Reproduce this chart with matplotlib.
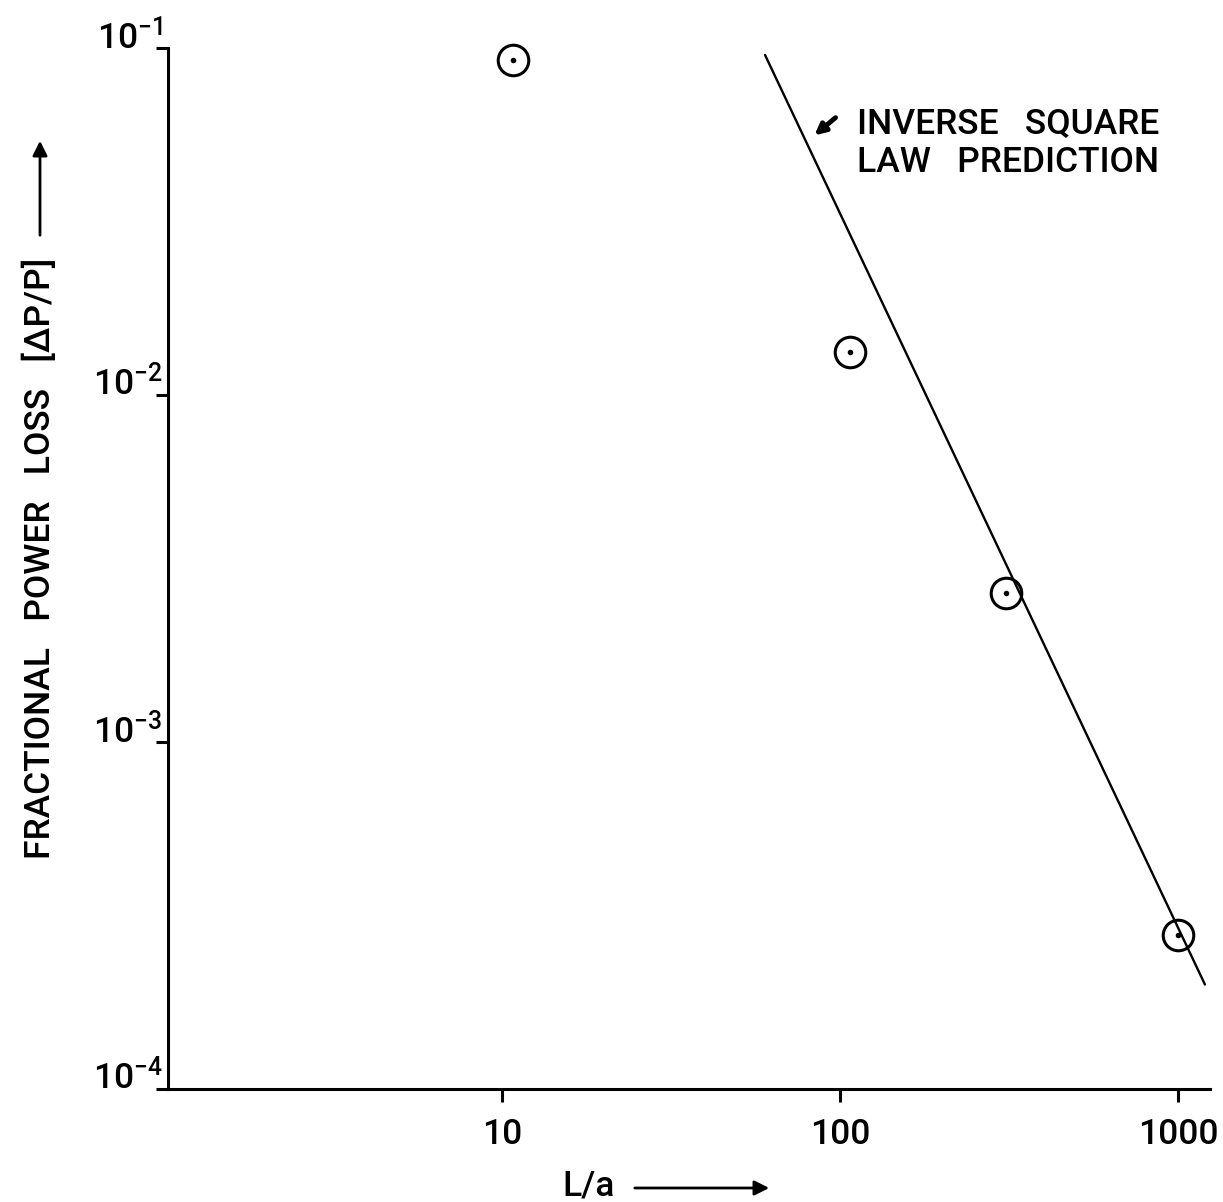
import numpy as np
import matplotlib
matplotlib.use("Agg")
import matplotlib.pyplot as plt

# ------------------------------------------------------------
# data
# ------------------------------------------------------------
la_meas = [10.8, 107, 310, 1000]
loss_meas = [0.0924, 0.0133, 0.00269, 0.000278]

# inverse square law prediction line (end points)
la_line = [60, 1202]
loss_line = [0.0955, 0.0002]

xticks = [10, 100, 1000]
xtick_labels = ["10", "100", "1000"]
yticks = [1e-4, 1e-3, 1e-2, 1e-1]
ytick_labels = [r"$\mathregular{10^{-4}}$", r"$\mathregular{10^{-3}}$",
                r"$\mathregular{10^{-2}}$", r"$\mathregular{10^{-1}}$"]

plt.rcParams["font.family"] = ["Roboto", "DejaVu Sans"]
plt.rcParams["font.weight"] = "medium"
plt.rcParams["mathtext.fontset"] = "custom"
plt.rcParams["mathtext.rm"] = "Roboto:medium"
plt.rcParams["mathtext.default"] = "regular"

FS = 25.5

W, H = 1223, 1202
fig = plt.figure(figsize=(W / 100, H / 100), dpi=100)
ax = fig.add_axes([168 / W, 1 - 1089 / H, (1210 - 168) / W, (1089 - 48) / H])

ax.set_xscale("log")
ax.set_yscale("log")
ax.set_xlim(1.027, 1244)
ax.set_ylim(1e-4, 1e-1)

# prediction line
ax.plot(la_line, loss_line, color="black", lw=1.7, solid_capstyle="round",
        clip_on=False)

# measured points: open circle with a dot in the middle
ax.plot(la_meas, loss_meas, linestyle="none", marker="o", ms=22,
        mfc="none", mec="black", mew=2.2, clip_on=False)
ax.plot(la_meas, loss_meas, linestyle="none", marker="o", ms=3,
        color="black", clip_on=False)

# axes styling
for side in ["top", "right"]:
    ax.spines[side].set_visible(False)
for side in ["left", "bottom"]:
    ax.spines[side].set_linewidth(2.2)

ax.minorticks_off()
ax.set_xticks(xticks)
ax.set_xticklabels(xtick_labels)
ax.set_yticks(yticks)
ax.set_yticklabels(ytick_labels)
ax.tick_params(axis="both", direction="out", length=9, width=2.2,
               labelsize=FS)
ax.tick_params(axis="x", pad=12)
ax.tick_params(axis="y", pad=-5)
for lab in ax.get_yticklabels():
    lab.set_verticalalignment("baseline")

# annotation
ax.annotate("", xy=(84, 0.056), xytext=(97, 0.063),
            arrowprops=dict(arrowstyle="-|>", lw=3.5, color="black",
                            mutation_scale=16, shrinkA=0, shrinkB=0))
fig.text(857 / W, 1 - 125 / H, "INVERSE   SQUARE", fontsize=FS,
         ha="left", va="center")
fig.text(857 / W, 1 - 162 / H, "LAW   PREDICTION", fontsize=FS,
         ha="left", va="center")

# axis labels with arrows
fig.text(40 / W, 1 - 558 / H, "FRACTIONAL   POWER   LOSS   [ΔP/P]",
         rotation=90, fontsize=FS, ha="center", va="center")
fig.add_artist(matplotlib.patches.FancyArrowPatch(
    (40 / W, 1 - 238 / H), (40 / W, 1 - 138 / H),
    transform=fig.transFigure, arrowstyle="-|>", mutation_scale=22,
    lw=2.0, color="black"))

fig.text(589 / W, 1 - 1186 / H, "L/a", fontsize=FS, ha="center",
         va="center")
fig.add_artist(matplotlib.patches.FancyArrowPatch(
    (632 / W, 1 - 1188 / H), (772 / W, 1 - 1188 / H),
    transform=fig.transFigure, arrowstyle="-|>", mutation_scale=22,
    lw=2.0, color="black"))

fig.savefig("out.png", dpi=100, facecolor="white")
